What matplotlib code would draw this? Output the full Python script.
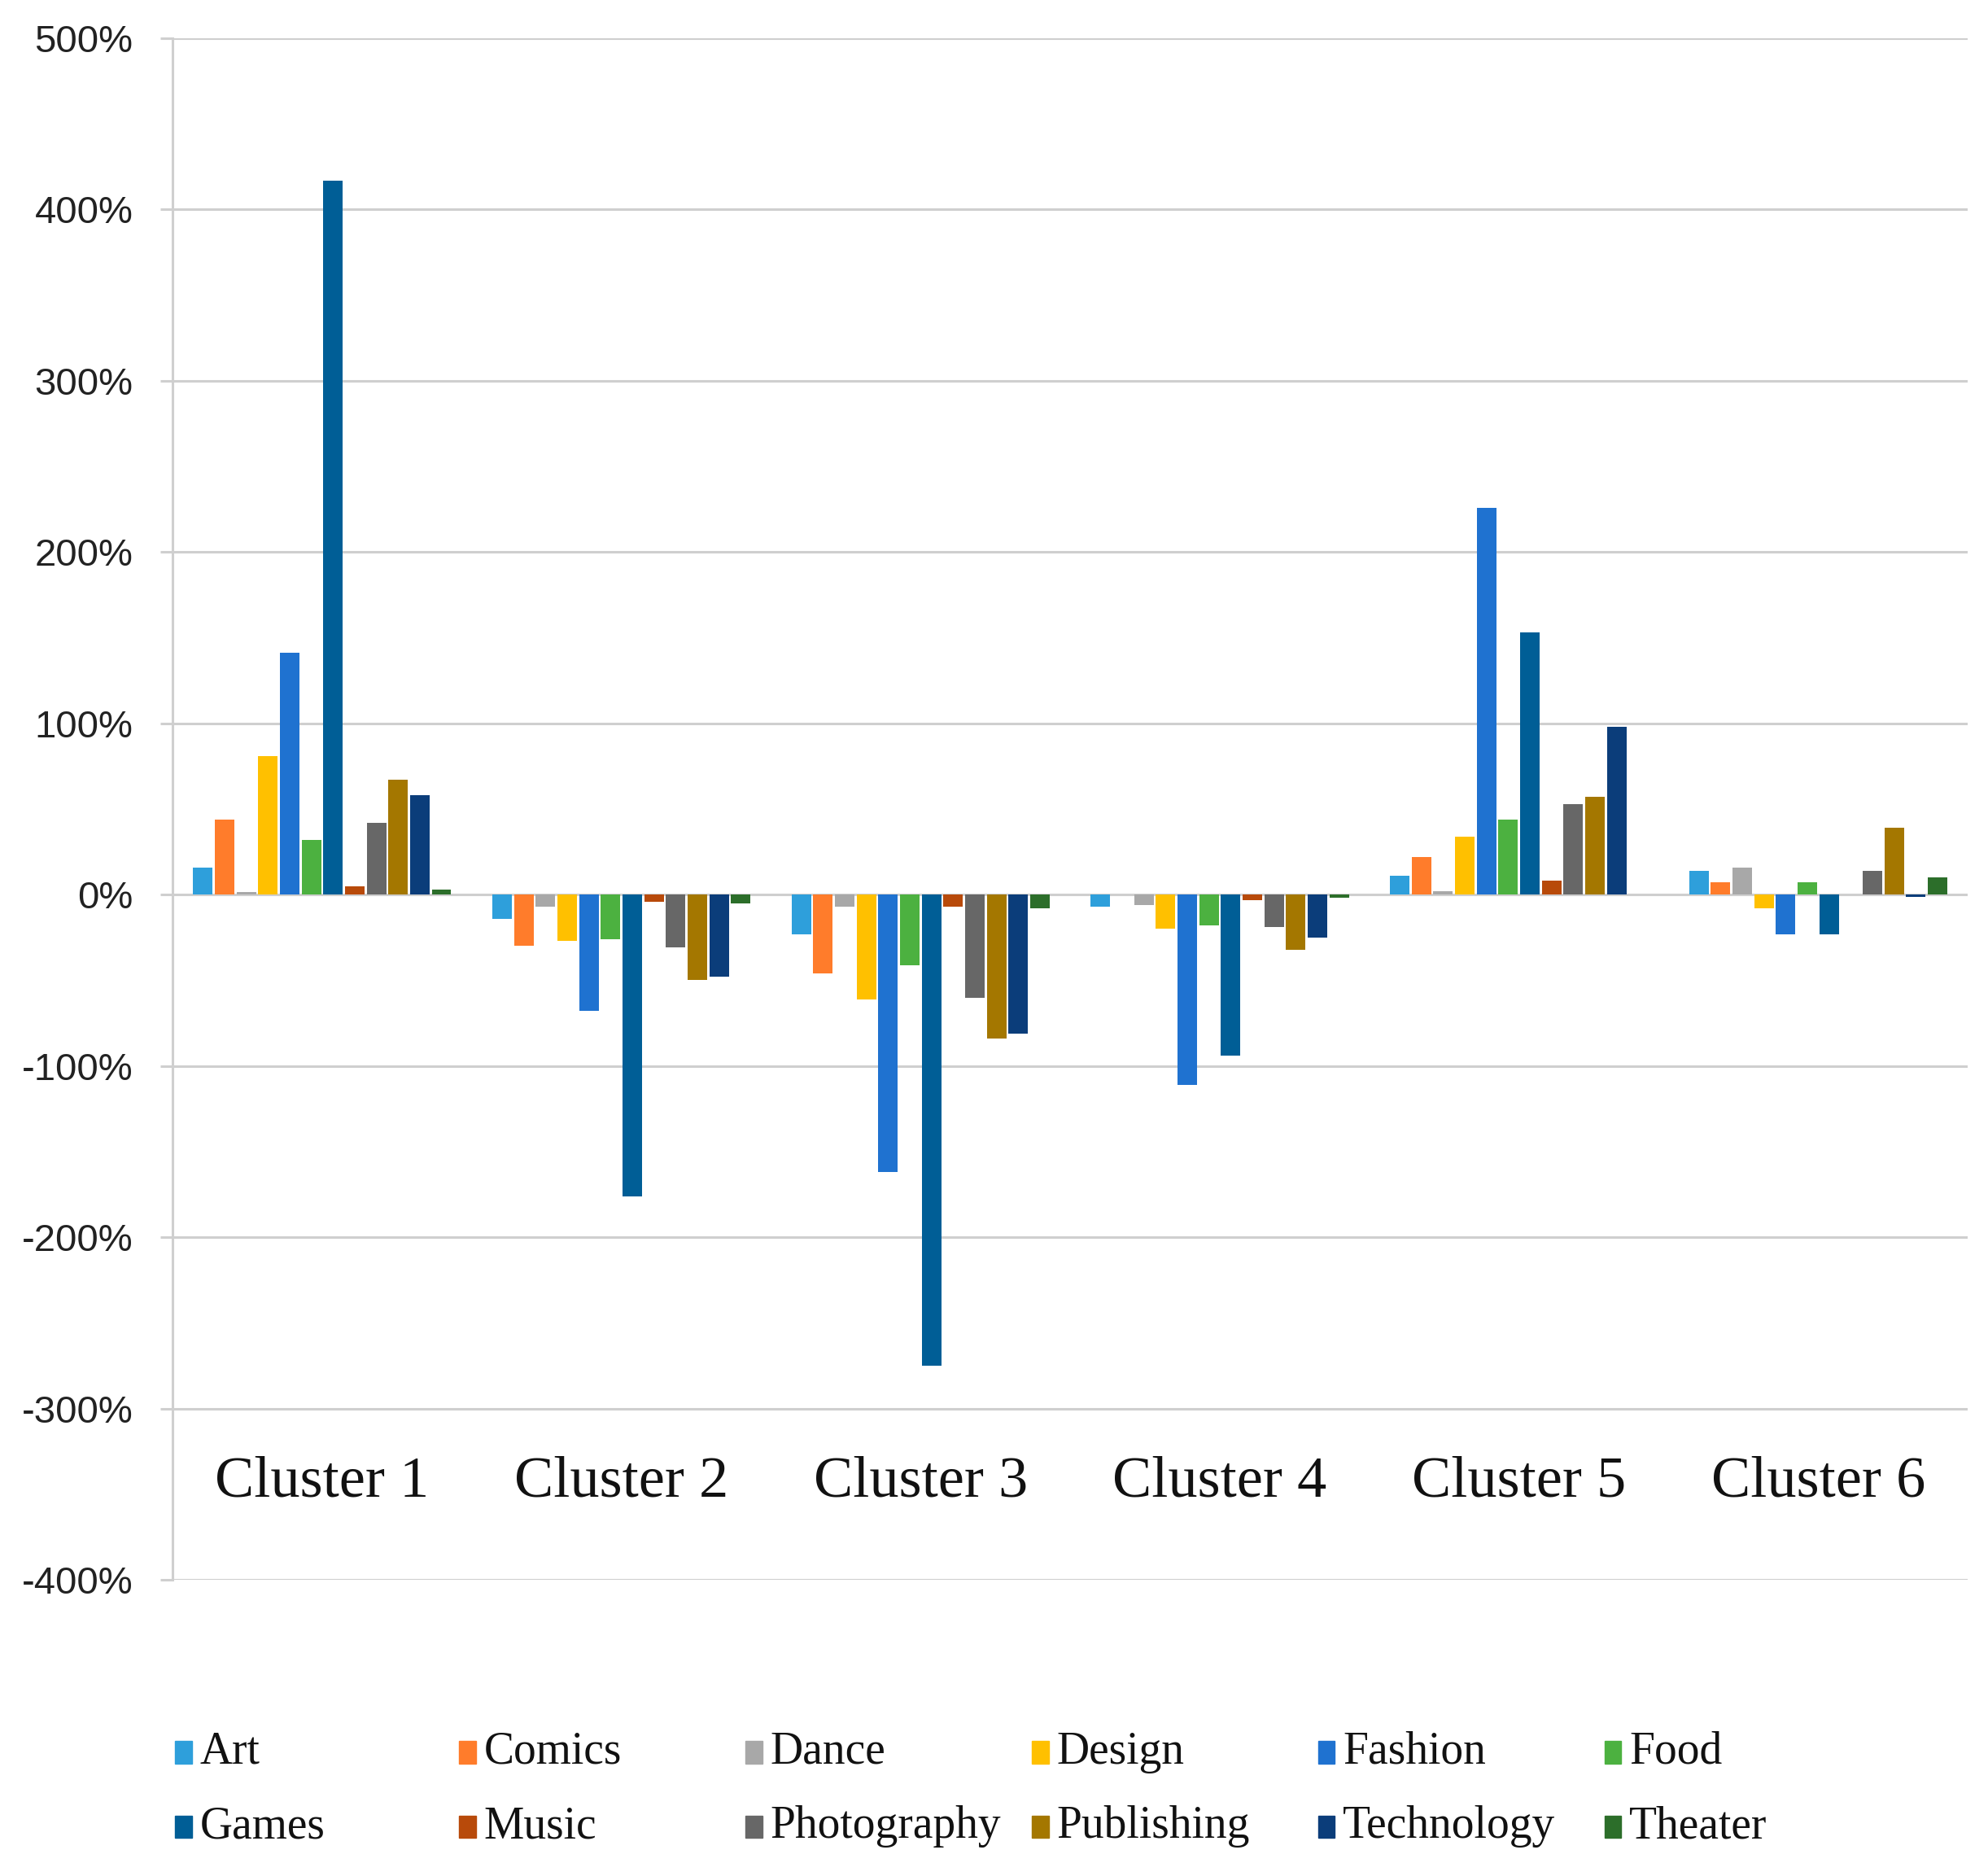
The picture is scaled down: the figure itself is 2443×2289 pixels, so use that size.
import matplotlib.pyplot as plt
import numpy as np
from matplotlib.patches import Rectangle
from matplotlib.ticker import FuncFormatter, MultipleLocator

clusters = ["Cluster 1", "Cluster 2", "Cluster 3", "Cluster 4", "Cluster 5", "Cluster 6"]
genres = ["Art", "Comics", "Dance", "Design", "Fashion", "Food",
          "Games", "Music", "Photography", "Publishing", "Technology", "Theater"]

# percent change per genre, one value per cluster
art = [16, -14, -23, -7, 11, 14]
comics = [44, -30, -46, 0, 22, 7]
dance = [1.5, -7, -7, -6, 2, 16]
design = [81, -27, -61, -20, 34, -8]
fashion = [141, -68, -162, -111, 226, -23]
food = [32, -26, -41, -18, 44, 7]
games = [417, -176, -275, -94, 153, -23]
music = [5, -4, -7, -3, 8, 0]
photography = [42, -31, -60, -19, 53, 14]
publishing = [67, -50, -84, -32, 57, 39]
technology = [58, -48, -81, -25, 98, -1.5]
theater = [3, -5, -8, -2, 0, 10]

series = [art, comics, dance, design, fashion, food,
          games, music, photography, publishing, technology, theater]
colors = ["#2E9FDB", "#FF7C2B", "#A8A8A8", "#FFC000", "#1F72D0", "#4CB140",
          "#005E96", "#B84A0A", "#676767", "#A47700", "#0B3D7A", "#2C6E2A"]

fig = plt.figure(figsize=(24.43, 22.89), dpi=100)
ax = fig.add_axes([0.0868, 0.152, 0.903, 0.8275])

x = np.arange(len(clusters))
group = 0.87
slot = group / len(series)
for i, vals in enumerate(series):
    off = -group / 2 + slot * (i + 0.5)
    ax.bar(x + off, vals, width=slot * 0.9, color=colors[i], zorder=3)

ax.set_xlim(-0.5, len(clusters) - 0.5)
ax.set_ylim(-400, 500)
ax.yaxis.set_major_locator(MultipleLocator(100))
ax.yaxis.set_major_formatter(FuncFormatter(lambda v, p: "%d%%" % v))
ax.grid(axis="y", color="#CFCFCF", linewidth=2.2, zorder=0)
ax.set_xticks([])
for s in ["top", "right", "bottom"]:
    ax.spines[s].set_visible(False)
ax.spines["left"].set_color("#CFCFCF")
ax.spines["left"].set_linewidth(2.2)
ax.tick_params(axis="y", length=11, width=2.2, color="#CFCFCF", pad=24,
               labelsize=34, labelcolor="#222222")
for lab in ax.get_yticklabels():
    lab.set_fontfamily("Liberation Sans")

for xi, name in zip(x, clusters):
    ax.text(xi, -343, name, ha="center", va="center", fontsize=52,
            family="Liberation Serif", color="#111111")

# legend in equal-width columns
col_x = [0.088, 0.231, 0.375, 0.519, 0.663, 0.807]
row_y = [0.0595, 0.0195]
for i, name in enumerate(genres):
    cx = col_x[i % 6]
    cy = row_y[i // 6]
    fig.patches.append(Rectangle((cx, cy - 0.006), 0.0085, 0.012, color=colors[i],
                                 transform=fig.transFigure, figure=fig))
    fig.text(cx + 0.0125, cy, name, ha="left", va="center", fontsize=40,
             family="Liberation Serif", color="#111111")

fig.savefig("out.png", dpi=100, facecolor="white")
